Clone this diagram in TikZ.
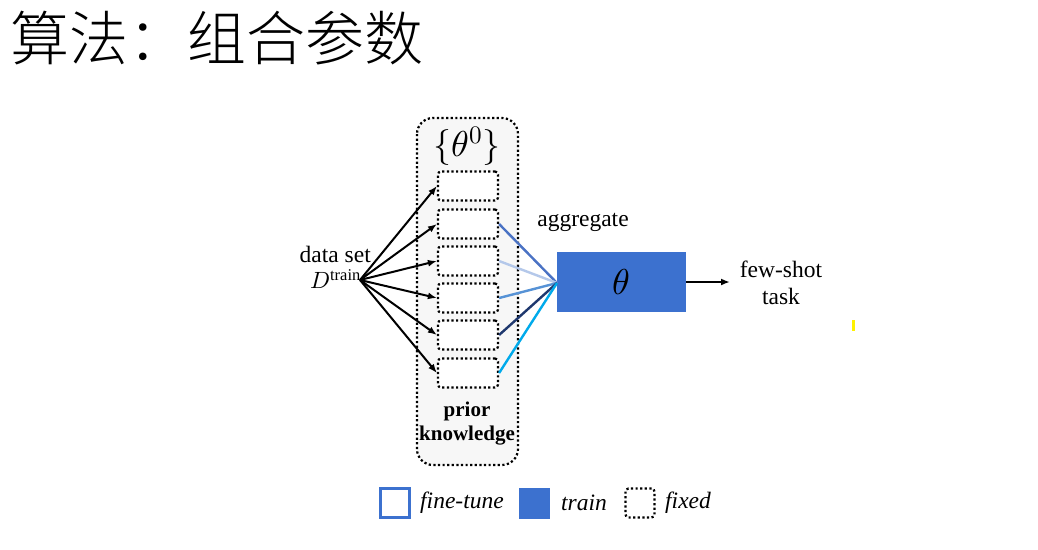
\documentclass[tikz,border=0pt]{standalone}
\usepackage{fontspec}
\setmainfont{Liberation Serif}
\newfontfamily\cjk{Noto Sans CJK SC}[UprightFont={* Light}]
\usepackage{unicode-math}
\setmathfont{Latin Modern Math}
\definecolor{trainblue}{RGB}{60,113,207}
\definecolor{aggA}{RGB}{74,114,196}
\definecolor{aggB}{RGB}{180,200,234}
\definecolor{aggC}{RGB}{86,146,214}
\definecolor{aggD}{RGB}{31,56,110}
\definecolor{aggE}{RGB}{0,170,235}
\tikzset{
  txt/.style={font=\fontsize{23.5}{27}\selectfont,inner sep=0pt},
  dots/.style={line width=2.2pt,dash pattern=on 2.2pt off 2.4pt},
  fixedbox/.style={draw,dots,rounded corners=3pt,minimum width=60pt,minimum height=29pt,fill=white},
  feed/.style={-{Latex[length=9pt,width=7pt]},line width=2pt},
  agg/.style={line width=2.4pt},
}
\usetikzlibrary{arrows.meta}
\begin{document}
\begin{tikzpicture}[x=1pt,y=-1pt]
\useasboundingbox[fill=white] (0,0) rectangle (1038,549);
% title
\node[anchor=west,inner sep=0pt,font=\cjk\fontsize{59}{62}\selectfont] (title) at (10,38) {算法：组合参数};
% prior knowledge
\draw[dots,rounded corners=16pt,fill=gray!6] (417,118) rectangle (518,465);
\node[txt,font=\fontsize{36}{40}\selectfont] (theta0) at (467,146) {$\{\theta^0\}$};
\foreach \i/\y in {1/186,2/224,3/261,4/298,5/335,6/373}
  \node[fixedbox] (p\i) at (468,\y) {};
\node[txt,font=\bfseries\fontsize{21}{25}\selectfont,align=center] (prior) at (467,424) {prior\\[-1pt]knowledge};
% data set
\coordinate (src) at (360,280);
\node[txt,anchor=east] (data) at (371,254) {data set};
\node[txt,anchor=east] (dtrain) at (361,279) {$D^{\mathrm{train}}$};
\foreach \i in {1,...,6}
  \draw[feed] (src) -- (p\i.west);
% aggregate
\node[txt,fill=trainblue,minimum width=129pt,minimum height=60pt] (theta) at (621.5,282) {\fontsize{36}{40}\selectfont$\theta$};
\node[txt] (aggr) at (583,222) {aggregate};
\coordinate (in) at (557,283);
\draw[agg,aggA] (p2.east) -- (in);
\draw[agg,aggB] (p3.east) -- (in);
\draw[agg,aggC] (p4.east) -- (in);
\draw[agg,aggD] (p5.east) -- (in);
\draw[agg,aggE] (p6.east) -- (in);
\node[txt,align=center] (task) at (781,283) {few-shot\\task};
\draw[feed] (theta.east) -- (730,282);
% legend
\node[draw=trainblue,line width=2.2pt,minimum size=29pt,inner sep=0pt] (lfine) at (395,503) {};
\node[txt,anchor=west,font=\itshape\fontsize{23.5}{27}\selectfont] (tfine) at (420,503) {fine-tune};
\node[fill=trainblue,minimum size=31pt,inner sep=0pt] (ltrain) at (534,503) {};
\node[txt,anchor=west,font=\itshape\fontsize{23.5}{27}\selectfont] (ttrain) at (561,503) {train};
\node[draw,dots,rounded corners=3pt,minimum size=29pt,inner sep=0pt] (lfixed) at (640,503) {};
\node[txt,anchor=west,font=\itshape\fontsize{23.5}{27}\selectfont] (tfixed) at (665,503) {fixed};
% cursor mark
\fill[yellow] (852,320) rectangle (855,331);
\end{tikzpicture}
\end{document}
